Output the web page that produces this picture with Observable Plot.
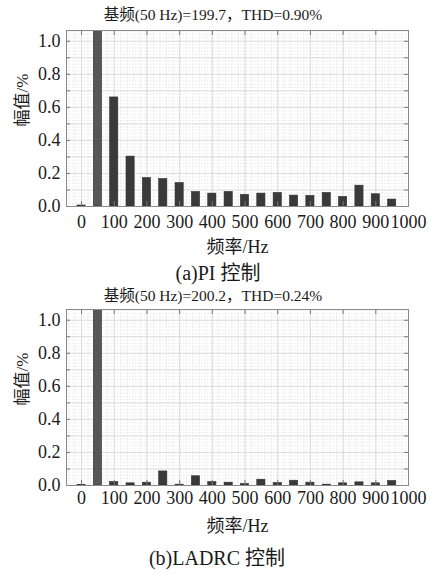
<!DOCTYPE html>
<html><head><meta charset="utf-8">
<script src="https://cdn.jsdelivr.net/npm/d3@7"></script>
<script src="https://cdn.jsdelivr.net/npm/@observablehq/plot@0.6"></script>
<style>
body{margin:0;background:#fff;}
#root{position:relative;width:430px;height:574px;color:#1a1a1a;overflow:hidden;}
.t{position:absolute;width:430px;text-align:center;white-space:nowrap;line-height:1;}
#root svg{position:absolute;left:0;}
</style></head><body><div id="root"></div>
<script>
// harmonic frequencies (Hz)
const freqs = [0,50,100,150,200,250,300,350,400,450,500,550,600,650,700,750,800,850,900,950];
// amplitude (% of fundamental), fundamental = 100 (clipped)
const ampPI = [0.006,100,0.66,0.302,0.172,0.166,0.142,0.088,0.078,0.088,0.07,0.078,0.082,0.066,0.064,0.082,0.058,0.126,0.074,0.042];
const ampLADRC = [0.003,100,0.021,0.013,0.017,0.085,0.005,0.056,0.021,0.017,0.009,0.035,0.015,0.029,0.017,0.005,0.013,0.019,0.013,0.027];
const xTickLabels = [0,100,200,300,400,500,600,700,800,900,1000];
const yTickLabels = [0,0.2,0.4,0.6,0.8,1.0];
const titles = ["基频(50 Hz)=199.7，THD=0.90%","基频(50 Hz)=200.2，THD=0.24%"];
const captions = ["(a)PI 控制","(b)LADRC 控制"];
const xLabel = "频率/Hz";
const yLabel = "幅值/%";

const FONT = "'Liberation Serif','Noto Sans CJK SC',serif";
const root = document.getElementById("root");
const X_DOMAIN = [-46, 1000];
const Y_DOMAIN = [0, 1.065];

function panel(amp, svgTop, tickPad) {
  const data = freqs.map((f, i) => ({f, a: amp[i], fund: f === 50}));
  const ml = 66, mr = 22, mt = 30, mb = 56;
  const h = 262;
  const pxX = (X_DOMAIN[1]-X_DOMAIN[0])/(430-ml-mr);
  const pxY = (Y_DOMAIN[1]-Y_DOMAIN[0])/(h-mt-mb);
  const yMinor = d3.range(0, 1.07, 0.02);
  const yMajor = d3.range(0, 1.07, 0.1);
  const xMinor = d3.range(-40, 1001, 20);
  const xMajor = d3.range(0, 1001, 100);
  const tx = 5*pxY, ty = 4*pxX;
  const svg = Plot.plot({
    width: 430, height: h,
    marginLeft: ml, marginRight: mr, marginTop: mt, marginBottom: mb,
    style: {fontFamily: FONT, color: "#1a1a1a", background: "transparent"},
    x: {domain: X_DOMAIN, axis: null, label: null},
    y: {domain: Y_DOMAIN, axis: null, label: null},
    marks: [
      Plot.ruleX(xMinor, {stroke: "#e4e4e4", strokeDasharray: "1.5,1.5", strokeWidth: 0.8}),
      Plot.ruleY(yMinor, {stroke: "#e4e4e4", strokeDasharray: "1.5,1.5", strokeWidth: 0.8}),
      Plot.ruleX(xMajor, {stroke: "#d6d6d6", strokeWidth: 0.8}),
      Plot.ruleY(yMajor, {stroke: "#d6d6d6", strokeWidth: 0.8}),
      Plot.rectY(data, {x1: d => d.f - 12.5, x2: d => d.f + 12.5, y1: 0, y2: "a",
        fill: d => d.fund ? "#575757" : "#3a3a3a", stroke: "#2e2e2e", strokeWidth: 0.6, clip: true}),
      // inward ticks
      Plot.ruleX(xMajor, {y1: Y_DOMAIN[0], y2: Y_DOMAIN[0] + tx, stroke: "#777"}),
      Plot.ruleX(xMajor, {y1: Y_DOMAIN[1] - tx, y2: Y_DOMAIN[1], stroke: "#777"}),
      Plot.ruleY(yMajor, {x1: X_DOMAIN[0], x2: X_DOMAIN[0] + ty, stroke: "#777"}),
      Plot.ruleY(yMajor, {x1: X_DOMAIN[1] - ty, x2: X_DOMAIN[1], stroke: "#777"}),
      Plot.frame({stroke: "#8a8a8a"}),
      Plot.axisX({ticks: xTickLabels, tickSize: 0, tickPadding: tickPad, fontSize: 18, fontFamily: FONT, label: null, tickFormat: d => String(d)}),
      Plot.axisY({ticks: yTickLabels, tickSize: 0, tickPadding: 6, fontSize: 18, fontFamily: FONT, label: null, tickFormat: d3.format(".1f")}),
      Plot.text([xLabel], {frameAnchor: "bottom", dy: 41, fontSize: 18, fontFamily: FONT, text: d => d, lineAnchor: "middle"}),
      Plot.text([yLabel], {frameAnchor: "left", dx: -44, dy: 8, rotate: -90, fontSize: 17, fontFamily: FONT, text: d => d, lineAnchor: "middle"})
    ]
  });
  svg.style.top = svgTop + "px";
  root.appendChild(svg);
}

function label(text, cx, cy, size) {
  const d = document.createElement("div");
  d.className = "t";
  d.textContent = text;
  d.style.fontFamily = FONT;
  d.style.fontSize = size + "px";
  d.style.left = (cx - 215) + "px";
  d.style.top = (cy - size/2) + "px";
  root.appendChild(d);
}

panel(ampPI, 0, 9);
panel(ampLADRC, 279, 6);
label(titles[0], 213, 15, 15.5);
label(captions[0], 218, 273, 20);
label(titles[1], 213, 296, 15.5);
label(captions[1], 217, 558, 20);
</script></body></html>
